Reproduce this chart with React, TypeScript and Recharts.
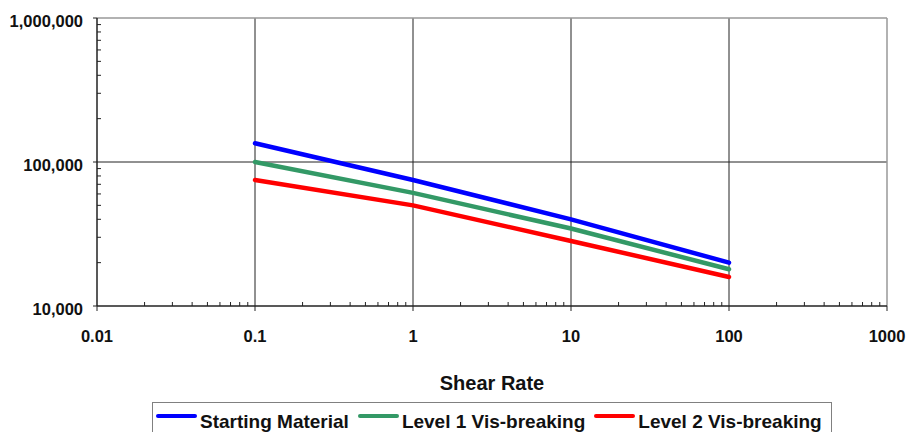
import React from 'react';
import { LineChart, Line, XAxis, YAxis, CartesianGrid, ReferenceLine, Legend } from 'recharts';

const shearRates = [0.1, 1, 10, 100];
const startingMaterial = [135000, 75000, 40000, 20000];
const level1VisBreaking = [100000, 61000, 34500, 18000];
const level2VisBreaking = [75000, 50000, 28300, 15900];

const seriesNames = ['Starting Material', 'Level 1 Vis-breaking', 'Level 2 Vis-breaking'];
const seriesColors = ['#0000FF', '#339966', '#FF0000'];

const xMajorTicks = [0.01, 0.1, 1, 10, 100, 1000];
const xTickLabels = ['0.01', '0.1', '1', '10', '100', '1000'];
const yMajorTicks = [10000, 100000, 1000000];
const yTickLabels = ['10,000', '100,000', '1,000,000'];
const minorMultipliers = [2, 3, 4, 5, 6, 7, 8, 9];
const xGridValues = [0.1, 1, 10, 100];
const yGridValues = [100000];
const xAxisTitle = 'Shear Rate';

const xMinorTicks = xMajorTicks.slice(0, -1).flatMap((d) => minorMultipliers.map((m) => +(d * m).toPrecision(6)));
const yMinorTicks = yMajorTicks.slice(0, -1).flatMap((d) => minorMultipliers.map((m) => d * m));
const xTicks = [...xMajorTicks, ...xMinorTicks].sort((a, b) => a - b);
const yTicks = [...yMajorTicks, ...yMinorTicks].sort((a, b) => a - b);

const data = shearRates.map((x, i) => ({
  x,
  s0: startingMaterial[i],
  s1: level1VisBreaking[i],
  s2: level2VisBreaking[i],
}));

const FONT = '"Liberation Sans", Arial, sans-serif';
const AXIS = '#222222';

const findIndex = (arr: number[], v: number) => arr.findIndex((a) => Math.abs(a - v) / a < 1e-6);

const XTick = (props: any) => {
  const { x, y, payload } = props;
  const idx = findIndex(xMajorTicks, payload.value);
  if (idx < 0) {
    return <line x1={x} x2={x} y1={y} y2={y - 4} stroke={AXIS} strokeWidth={1} />;
  }
  return (
    <g>
      <line x1={x} x2={x} y1={y} y2={y + 5} stroke={AXIS} strokeWidth={1} />
      <text x={x} y={y + 36} textAnchor="middle" fontFamily={FONT} fontWeight="bold" fontSize={16.5} fill="#111">
        {xTickLabels[idx]}
      </text>
    </g>
  );
};

const YTick = (props: any) => {
  const { x, y, payload } = props;
  const idx = findIndex(yMajorTicks, payload.value);
  if (idx < 0) {
    return <line x1={x} x2={x + 4} y1={y} y2={y} stroke={AXIS} strokeWidth={1} />;
  }
  return (
    <g>
      <line x1={x - 4} x2={x} y1={y} y2={y} stroke={AXIS} strokeWidth={1} />
      <text x={x - 14} y={y + 9} textAnchor="end" fontFamily={FONT} fontWeight="bold" fontSize={16.5} fill="#111">
        {yTickLabels[idx]}
      </text>
    </g>
  );
};

const LegendContent = (props: any) => {
  const payload = [...(props.payload || [])].sort(
    (a: any, b: any) => seriesNames.indexOf(a.value) - seriesNames.indexOf(b.value)
  );
  return (
    <div
      style={{
        boxSizing: 'border-box',
        width: 680,
        height: 30,
        border: '1px solid #808080',
        borderBottom: 'none',
        display: 'flex',
        alignItems: 'flex-start',
        paddingLeft: 3,
        fontFamily: FONT,
        fontWeight: 'bold',
        fontSize: 19,
        color: '#111',
        background: '#fff',
      }}
    >
      {payload.map((p: any, i: number) => (
        <div key={i} style={{ display: 'flex', alignItems: 'flex-start', marginRight: 9 }}>
          <span
            style={{
              display: 'inline-block',
              width: 41,
              height: 4,
              borderRadius: 2,
              background: p.color,
              marginTop: 11,
              marginRight: 3,
            }}
          />
          <span style={{ lineHeight: '19px', paddingTop: 9, whiteSpace: 'nowrap' }}>{p.value}</span>
        </div>
      ))}
    </div>
  );
};

export default function App() {
  return (
    <div style={{ position: 'absolute', left: 0, top: 0, width: 908, height: 432, background: '#fff' }}>
      <LineChart width={908} height={432} data={data} margin={{ top: 18, right: 21, left: 0, bottom: 0 }}>
        <CartesianGrid
          stroke={AXIS}
          strokeWidth={1}
          horizontalValues={yGridValues}
          verticalValues={xGridValues}
        />
        <ReferenceLine y={1000000} stroke="#999999" strokeWidth={1.5} />
        <ReferenceLine x={1000} stroke="#999999" strokeWidth={1.5} />
        <XAxis
          dataKey="x"
          type="number"
          scale="log"
          domain={[0.01, 1000]}
          allowDataOverflow
          ticks={xTicks}
          interval={0}
          tickLine={false}
          tickSize={0}
          tickMargin={0}
          tick={<XTick />}
          height={126}
          axisLine={{ stroke: AXIS, strokeWidth: 1.5 }}
          label={{
            value: xAxisTitle,
            position: 'insideTop',
            offset: 70,
            style: { fontFamily: FONT, fontWeight: 'bold', fontSize: 20, fill: '#111' },
          }}
        />
        <YAxis
          type="number"
          scale="log"
          domain={[10000, 1000000]}
          allowDataOverflow
          ticks={yTicks}
          interval={0}
          tickLine={false}
          tickSize={0}
          tickMargin={0}
          tick={<YTick />}
          width={97}
          axisLine={{ stroke: AXIS, strokeWidth: 1.5 }}
        />
        <Legend
          layout="horizontal"
          verticalAlign="bottom"
          align="center"
          itemSorter={null as any}
          wrapperStyle={{ left: 152, top: 402, bottom: 'auto', width: 680, height: 0, overflow: 'visible' }}
          content={<LegendContent />}
        />
        {['s0', 's1', 's2'].map((k, i) => (
          <Line
            key={k}
            dataKey={k}
            name={seriesNames[i]}
            stroke={seriesColors[i]}
            strokeWidth={4.5}
            strokeLinecap="round"
            dot={false}
            activeDot={false}
            type="linear"
            isAnimationActive={false}
          />
        ))}
      </LineChart>
    </div>
  );
}
